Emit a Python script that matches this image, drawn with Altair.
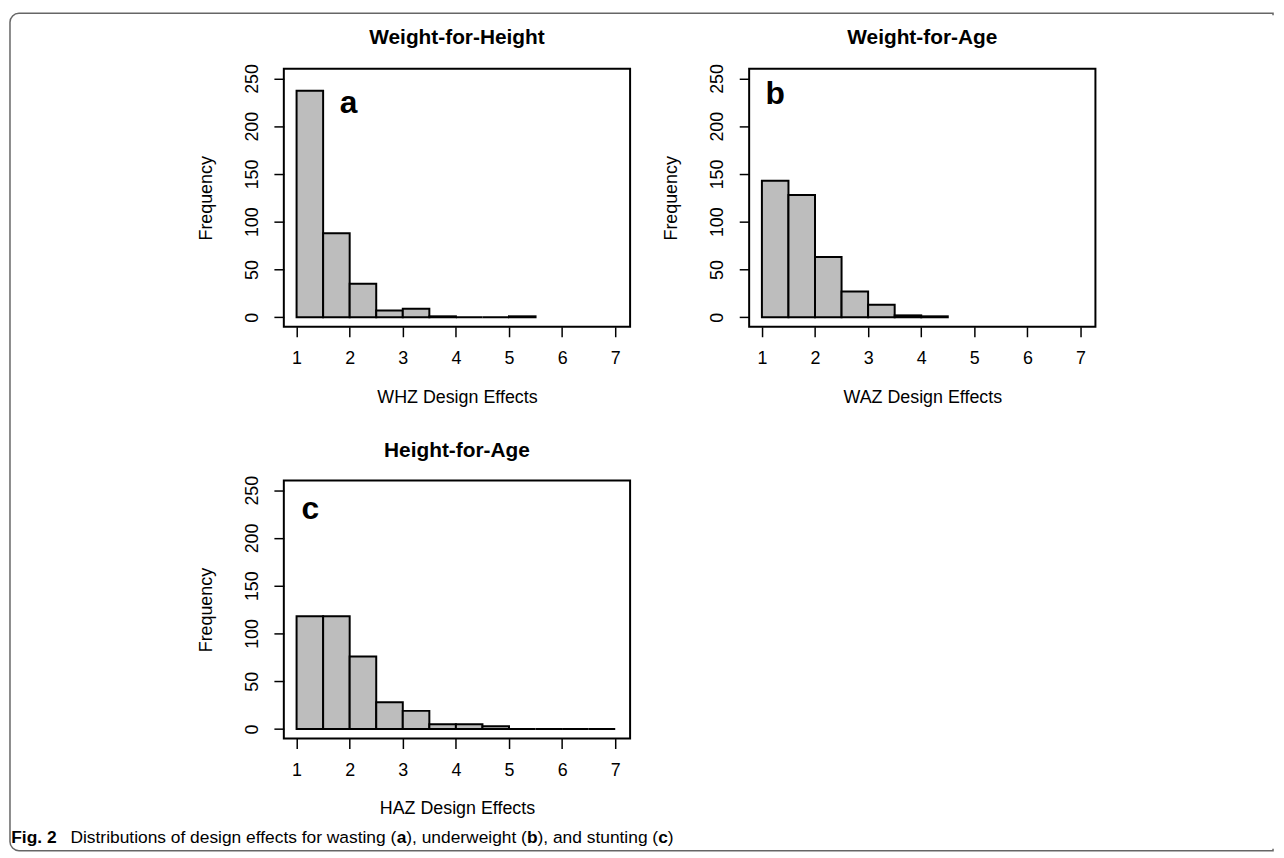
import altair as alt
import pandas as pd

FONT = "Liberation Sans"

# ---- data ----
bin_width = 0.5
bins_a = [1.0, 1.5, 2.0, 2.5, 3.0, 3.5, 4.0, 4.5, 5.0]
counts_a = [237, 88, 35, 7, 9, 1, 0, 0, 1]
bins_b = [1.0, 1.5, 2.0, 2.5, 3.0, 3.5, 4.0]
counts_b = [143, 128, 63, 27, 13, 2, 1]
bins_c = [1.0, 1.5, 2.0, 2.5, 3.0, 3.5, 4.0, 4.5, 5.0, 5.5, 6.0, 6.5]
counts_c = [118, 118, 76, 28, 19, 5, 5, 3, 0, 0, 0, 0]

panel_titles = ["Weight-for-Height", "Weight-for-Age", "Height-for-Age"]
x_titles = ["WHZ Design Effects", "WAZ Design Effects", "HAZ Design Effects"]
panel_letters = ["a", "b", "c"]
letter_x = [1.98, 1.25, 1.26]
letter_y = [214, 223, 220]

x_ticks = [1, 2, 3, 4, 5, 6, 7]
y_ticks = [0, 50, 100, 150, 200, 250]

caption_parts = [
    ("Fig. 2", True),
    ("Distributions of design effects for wasting (", False),
    ("a", True),
    ("), underweight (", False),
    ("b", True),
    ("), and stunting (", False),
    ("c", True),
    (")", False),
]

# Arial / Liberation Sans advance widths (per 1000 em) for caption layout
W_REG = {' ': 278, '(': 333, ')': 333, ',': 278, '.': 278, 'a': 556, 'b': 556,
         'c': 500, 'd': 556, 'e': 556, 'f': 278, 'g': 556, 'h': 556, 'i': 222,
         'n': 556, 'o': 556, 'r': 333, 's': 500, 't': 278, 'u': 556, 'w': 722,
         'D': 722}
W_BOLD = {'F': 611, 'i': 278, 'g': 611, '.': 278, ' ': 278, '2': 556,
          'a': 556, 'b': 611, 'c': 556}

W, H = 349, 260
XDOM = [0.76, 7.28]
YDOM = [-10, 260]
CAP_SIZE = 17.5


def text_width(s, bold, size):
    table = W_BOLD if bold else W_REG
    return sum(table.get(ch, 556) for ch in s) * size / 1000.0


def caption_layers(x0, y0):
    layers = []
    x = x0
    for i, (txt, bold) in enumerate(caption_parts):
        layers.append(
            alt.Chart(pd.DataFrame({"t": [txt]}))
            .mark_text(font=FONT, fontSize=CAP_SIZE,
                       fontWeight="bold" if bold else "normal",
                       align="left", baseline="alphabetic", color="black")
            .encode(x=alt.value(x), y=alt.value(y0), text="t:N")
        )
        x += text_width(txt, bold, CAP_SIZE)
        if i == 0:
            x += 14
    return layers


def frame_layers():
    one = pd.DataFrame({"k": [0]})
    rect = alt.Chart(one).mark_rect(
        fillOpacity=0, stroke="#666666", strokeWidth=1.5,
        cornerRadiusTopLeft=9, cornerRadiusBottomLeft=9
    ).encode(x=alt.value(-276), x2=alt.value(997),
             y=alt.value(-56), y2=alt.value(788))
    cover = alt.Chart(one).mark_rule(stroke="white", strokeWidth=4).encode(
        x=alt.value(997), y=alt.value(-54), y2=alt.value(786))
    return [rect, cover]


def panel(bins, counts, title, xtitle, letter, lx, ly, ty, extra=()):
    df = pd.DataFrame({
        "start": bins,
        "end": [b + bin_width for b in bins],
        "count": counts,
    })
    bars = alt.Chart(df).mark_rect(
        fill="#bdbdbd", stroke="black", strokeWidth=2
    ).encode(
        x=alt.X("start:Q",
                scale=alt.Scale(domain=XDOM, nice=False, zero=False),
                axis=alt.Axis(values=x_ticks, format="d", title=xtitle,
                              labelPadding=13, titlePadding=21)),
        x2="end:Q",
        y=alt.Y("count:Q",
                scale=alt.Scale(domain=YDOM, nice=False, zero=False),
                axis=alt.Axis(values=y_ticks, title="Frequency",
                              labelAngle=270, labelAlign="center",
                              labelBaseline="alphabetic", labelPadding=17,
                              titlePadding=28)),
        y2=alt.datum(0),
    )
    lab = alt.Chart(pd.DataFrame({"letter": [letter], "x": [lx], "y": [ly]})).mark_text(
        font=FONT, fontWeight="bold", fontSize=32, align="center",
        baseline="alphabetic", color="black"
    ).encode(x="x:Q", y="y:Q", text="letter:N")
    ttl = alt.Chart(pd.DataFrame({"t": [title]})).mark_text(
        font=FONT, fontWeight="bold", fontSize=21, align="center",
        baseline="alphabetic", color="black"
    ).encode(x=alt.value(W / 2), y=alt.value(ty), text="t:N")
    return alt.layer(bars, lab, ttl, *extra).properties(width=W, height=H)


pa = panel(bins_a, counts_a, panel_titles[0], x_titles[0], panel_letters[0],
           letter_x[0], letter_y[0], -25, extra=frame_layers())
pb = panel(bins_b, counts_b, panel_titles[1], x_titles[1], panel_letters[1],
           letter_x[1], letter_y[1], -25)
pc = panel(bins_c, counts_c, panel_titles[2], x_titles[2], panel_letters[2],
           letter_x[2], letter_y[2], -24, extra=caption_layers(-274.75, 365))

chart = alt.concat(
    pa, pb, pc, columns=2, spacing={"row": 155, "column": 120}, bounds="flush"
).properties(
    padding={"left": 0, "top": 0, "right": 0, "bottom": 0}
).configure_view(
    stroke="black", strokeWidth=2
).configure_axis(
    domain=False, grid=False,
    tickColor="black", tickWidth=1.5, tickSize=10,
    labelFont=FONT, labelFontSize=18, labelColor="black",
    titleFont=FONT, titleFontSize=18, titleFontWeight="normal", titleColor="black",
)

chart.save("out.html", embed_options={"renderer": "svg", "actions": False})
